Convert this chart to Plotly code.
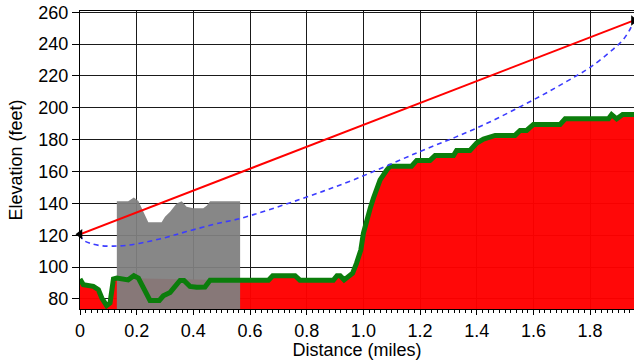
import numpy as np
import plotly.graph_objects as go

# Ground profile (distance in miles, elevation in feet)
terrain_x = [0, 0.012, 0.047, 0.065, 0.077, 0.094, 0.106, 0.118, 0.13, 0.17, 0.19, 0.206,
             0.247, 0.28, 0.294, 0.318, 0.353, 0.367, 0.388, 0.412, 0.441, 0.459, 0.565,
             0.665, 0.68, 0.759, 0.776, 0.894, 0.907, 0.918, 0.932, 0.947, 0.962, 0.976,
             0.991, 1.0, 1.012, 1.024, 1.035, 1.047, 1.059, 1.082, 1.094, 1.17, 1.188,
             1.235, 1.253, 1.318, 1.329, 1.376, 1.4, 1.424, 1.465, 1.535, 1.553, 1.576,
             1.6, 1.694, 1.712, 1.865, 1.876, 1.894, 1.915, 1.955]
terrain_y = [92.5, 88.9, 87.9, 85.8, 80.6, 75.8, 77.5, 92.5, 93.1, 92.0, 94.6, 93.1,
             79.1, 79.1, 82.0, 84.1, 91.6, 91.6, 87.9, 87.3, 87.5, 91.8, 91.8,
             91.8, 94.6, 94.6, 91.8, 91.8, 94.6, 94.6, 92.0, 94.0, 96.2, 102.5,
             110.8, 121.2, 130.6, 136.9, 143.1, 149.4, 154.8, 160.8, 163.4, 163.4, 167.0,
             167.0, 170.0, 170.0, 173.2, 173.2, 177.9, 180.4, 182.7, 182.7, 185.8, 185.8,
             189.6, 189.6, 193.1, 193.1, 195.8, 193.1, 195.8, 195.8]

# Obstruction (gray) profile
obst_x = [0.13, 0.17, 0.19, 0.206, 0.241, 0.288, 0.3, 0.318, 0.341, 0.359, 0.376, 0.4,
          0.435, 0.447, 0.459, 0.565]
obst_y = [141.4, 141.4, 143.7, 141.5, 128.1, 128.1, 131.6, 134.8, 140.0, 141.4, 137.9,
          136.9, 136.9, 138.5, 141.4, 141.4]

# Line of sight endpoints
los_x = [0, 1.953]
los_y = [120.6, 254.8]

# Lower Fresnel boundary (blue dashed)
fres_x = [0, 0.012, 0.035, 0.071, 0.118, 0.165, 0.235, 0.306, 0.376, 0.497, 0.565,
          0.776, 0.965, 1.2, 1.4, 1.6, 1.741, 1.8, 1.882, 1.918, 1.944, 1.953]
fres_y = [120.6, 117.0, 115.0, 113.5, 113.2, 113.7, 115.8, 118.8, 122.3, 127.9, 130.5,
          142.5, 154.8, 172.6, 187.3, 205.0, 219.0, 225.4, 236.9, 243.1, 250.4, 254.8]

x_tickvals = [0, 0.2, 0.4, 0.6, 0.8, 1.0, 1.2, 1.4, 1.6, 1.8]
x_ticktext = ["0", "0.2", "0.4", "0.6", "0.8", "1.0", "1.2", "1.4", "1.6", "1.8"]
y_tickvals = [80, 100, 120, 140, 160, 180, 200, 220, 240, 260]

tx = np.array(terrain_x)
mask = (tx > obst_x[0]) & (tx < obst_x[-1])
red_y = [None if m else v for m, v in zip(mask, terrain_y)]

fig = go.Figure()
fig.add_trace(go.Scatter(x=terrain_x, y=red_y, mode="lines", line=dict(width=0),
                         fill="tozeroy", fillcolor="rgba(255,0,0,0.97)",
                         connectgaps=False, hoverinfo="skip"))
fig.add_trace(go.Scatter(x=obst_x, y=obst_y, mode="lines", line=dict(width=0),
                         fill="tozeroy", fillcolor="rgba(128,128,128,0.94)", hoverinfo="skip"))
fig.add_trace(go.Scatter(x=terrain_x, y=terrain_y, mode="lines",
                         line=dict(color="#0b7d0b", width=5)))
fig.add_trace(go.Scatter(x=fres_x, y=fres_y, mode="lines",
                         line=dict(color="#3c3cff", width=1.6, dash="5px,4px", shape="spline")))
fig.add_trace(go.Scatter(x=los_x, y=los_y, mode="lines+markers",
                         line=dict(color="#ff0000", width=2),
                         marker=dict(symbol=["triangle-left", "triangle-right"], size=9,
                                     color="black"),
                         cliponaxis=False))

axis_font = dict(family="Liberation Sans, Arial, sans-serif", size=18, color="black")
fig.update_layout(
    width=634, height=360,
    margin=dict(l=80, r=0, t=11, b=51, autoexpand=False),
    paper_bgcolor="white", plot_bgcolor="white",
    showlegend=False,
    font=axis_font,
    xaxis=dict(range=[0, 1.955], tickvals=x_tickvals, ticktext=x_ticktext,
               showgrid=True, gridcolor="#1a1a1a", gridwidth=1,
               showline=True, linecolor="black", linewidth=1, mirror=True,
               ticks="outside", ticklen=5, tickcolor="black",
               minor=dict(dtick=0.02, tick0=0, ticks="outside", ticklen=3,
                          tickcolor="black", showgrid=False),
               tickfont=axis_font, zeroline=False, automargin=False,
               title=dict(text="Distance (miles)", font=axis_font, standoff=0)),
    yaxis=dict(range=[73.7, 260.8], tickvals=y_tickvals,
               showgrid=True, gridcolor="#1a1a1a", gridwidth=1,
               showline=True, linecolor="black", linewidth=1,
               ticks="outside", ticklen=7, tickcolor="black",
               tickfont=axis_font, zeroline=False, automargin=False,
               ticklabeloverflow="allow",
               title=dict(text="Elevation (feet)", font=axis_font, standoff=11)),
)

# Remove the default 8px page margin so the figure fills the window exactly.
fig.write_html("out.html", config={"displayModeBar": False},
               post_script="document.body.style.margin='0';")
